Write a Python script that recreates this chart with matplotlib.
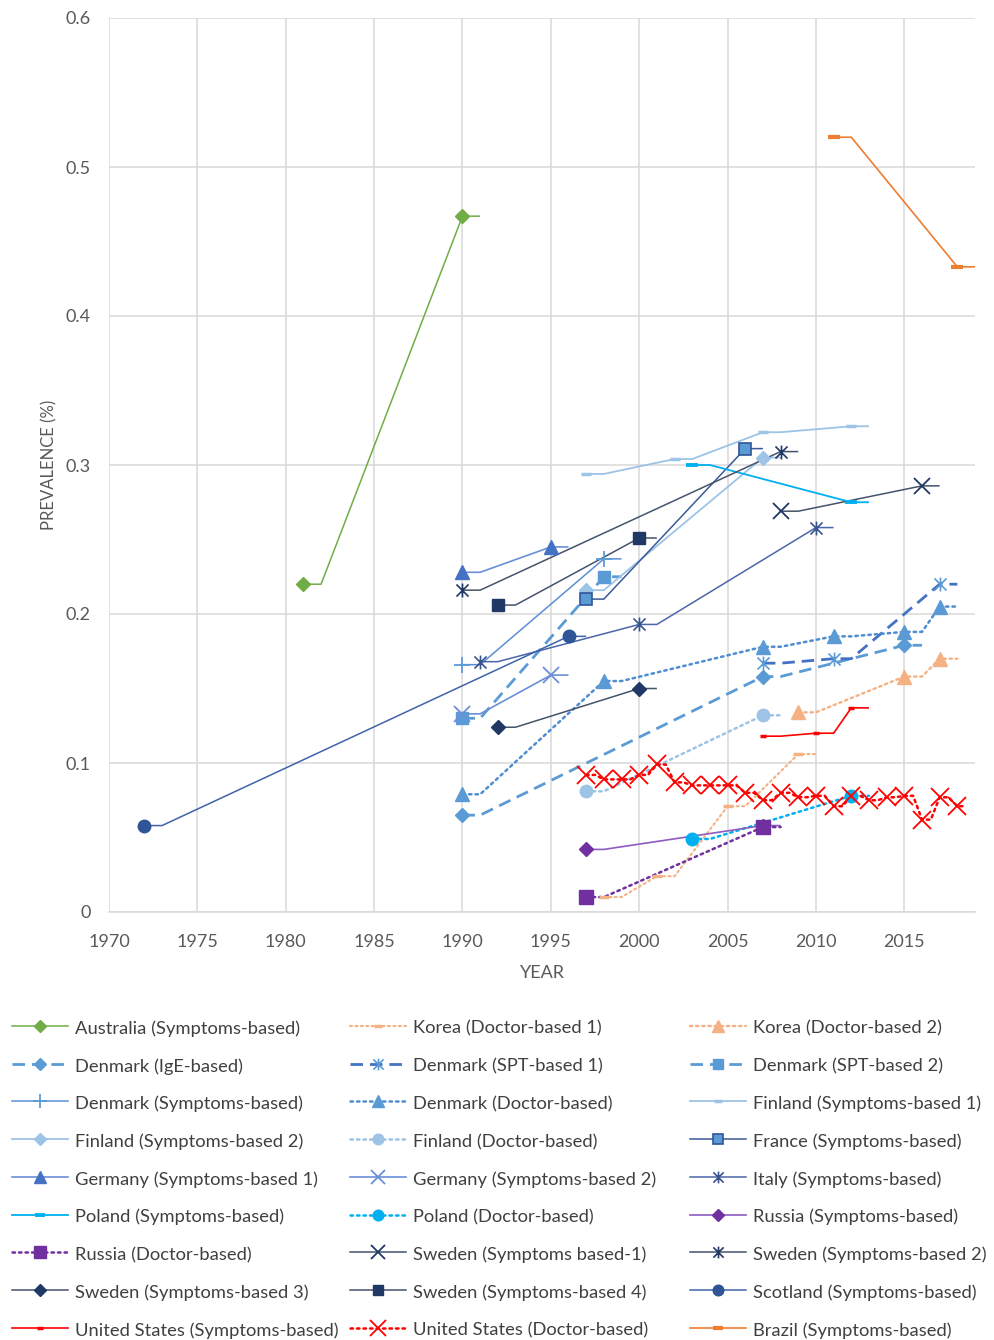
import matplotlib
matplotlib.use("Agg")
import matplotlib.pyplot as plt
from matplotlib.lines import Line2D
from matplotlib.path import Path

plt.rcParams['font.family'] = ['Lato', 'DejaVu Sans']

# ---------------- data ----------------
australia_x = [1981, 1990]; australia_y = [0.220, 0.467]
korea_d1_x = [1998, 2001, 2005, 2009]; korea_d1_y = [0.010, 0.024, 0.071, 0.106]
korea_d2_x = [2009, 2015, 2017]; korea_d2_y = [0.134, 0.158, 0.170]
dk_ige_x = [1990, 2007, 2015]; dk_ige_y = [0.065, 0.158, 0.179]
dk_spt1_x = [2007, 2011, 2017]; dk_spt1_y = [0.167, 0.170, 0.220]
dk_spt2_x = [1990, 1998]; dk_spt2_y = [0.130, 0.225]
dk_sym_x = [1990, 1998]; dk_sym_y = [0.166, 0.237]
dk_doc_x = [1990, 1998, 2007, 2011, 2015, 2017]; dk_doc_y = [0.079, 0.155, 0.178, 0.185, 0.188, 0.205]
fi_s1_x = [1997, 2002, 2007, 2012]; fi_s1_y = [0.294, 0.304, 0.322, 0.326]
fi_s2_x = [1997, 2007]; fi_s2_y = [0.216, 0.305]
fi_doc_x = [1997, 2007]; fi_doc_y = [0.081, 0.132]
france_x = [1997, 2006]; france_y = [0.210, 0.311]
de_s1_x = [1990, 1995]; de_s1_y = [0.228, 0.245]
de_s2_x = [1990, 1995]; de_s2_y = [0.133, 0.159]
italy_x = [1991, 2000, 2010]; italy_y = [0.168, 0.193, 0.258]
pl_sym_x = [2003, 2012]; pl_sym_y = [0.300, 0.275]
pl_doc_x = [2003, 2012]; pl_doc_y = [0.049, 0.078]
ru_sym_x = [1997, 2007]; ru_sym_y = [0.042, 0.058]
ru_doc_x = [1997, 2007]; ru_doc_y = [0.010, 0.057]
se_s1_x = [2008, 2016]; se_s1_y = [0.269, 0.286]
se_s2_x = [1990, 2008]; se_s2_y = [0.216, 0.309]
se_s3_x = [1992, 2000]; se_s3_y = [0.124, 0.150]
se_s4_x = [1992, 2000]; se_s4_y = [0.206, 0.251]
scotland_x = [1972, 1996]; scotland_y = [0.058, 0.185]
us_sym_x = [2007, 2010, 2012]; us_sym_y = [0.118, 0.120, 0.137]
us_doc_x = list(range(1997, 2019))
us_doc_y = [0.092, 0.089, 0.089, 0.092, 0.099, 0.087, 0.085, 0.085, 0.085, 0.080, 0.075,
            0.080, 0.077, 0.078, 0.071, 0.078, 0.075, 0.077, 0.078, 0.062, 0.077, 0.071]
brazil_x = [2011, 2018]; brazil_y = [0.520, 0.433]

x_ticks = [1970, 1975, 1980, 1985, 1990, 1995, 2000, 2005, 2010, 2015]
y_ticks = [0, 0.1, 0.2, 0.3, 0.4, 0.5, 0.6]
y_tick_labels = ['0', '0.1', '0.2', '0.3', '0.4', '0.5', '0.6']

# ---------------- styles ----------------
star = Path([(-1, -1), (1, 1), (-1, 1), (1, -1), (0, -1.15), (0, 1.15)],
            [Path.MOVETO, Path.LINETO, Path.MOVETO, Path.LINETO, Path.MOVETO, Path.LINETO])

SOLID = '-'
DOT = (0, (1, 1.6))
DASH = (0, (4.5, 2.5))

# label, x, y, line color, linestyle, lw, marker, marker size, face, edge, mew
series = [
    ("Australia (Symptoms-based)", australia_x, australia_y, '#70AD47', SOLID, 1.1, 'D', 7.5, '#70AD47', '#70AD47', 1),
    ("Korea (Doctor-based 1)", korea_d1_x, korea_d1_y, '#F4B183', DOT, 1.5, '_', 7, '#F4B183', '#F4B183', 2.5),
    ("Korea (Doctor-based 2)", korea_d2_x, korea_d2_y, '#F4B183', DOT, 1.7, '^', 10, '#F4B183', '#F4B183', 1),
    ("Denmark (IgE-based)", dk_ige_x, dk_ige_y, '#5B9BD5', DASH, 2.0, 'D', 7.5, '#5B9BD5', '#5B9BD5', 1),
    ("Denmark (SPT-based 1)", dk_spt1_x, dk_spt1_y, '#4472C4', DASH, 2.0, star, 10, 'none', '#5B9BD5', 1.2),
    ("Denmark (SPT-based 2)", dk_spt2_x, dk_spt2_y, '#5B9BD5', DASH, 2.0, 's', 9, '#5B9BD5', '#5B9BD5', 1),
    ("Denmark (Symptoms-based)", dk_sym_x, dk_sym_y, '#5B8ED6', SOLID, 1.1, '+', 12, '#5B9BD5', '#5B9BD5', 1.3),
    ("Denmark (Doctor-based)", dk_doc_x, dk_doc_y, '#4F8DD0', DOT, 1.8, '^', 10, '#5B9BD5', '#5B9BD5', 1),
    ("Finland (Symptoms-based 1)", fi_s1_x, fi_s1_y, '#9DC3E6', SOLID, 1.3, '_', 7, '#9DC3E6', '#9DC3E6', 2.5),
    ("Finland (Symptoms-based 2)", fi_s2_x, fi_s2_y, '#9DC3E6', SOLID, 1.3, 'D', 7.5, '#9DC3E6', '#9DC3E6', 1),
    ("Finland (Doctor-based)", fi_doc_x, fi_doc_y, '#9DC3E6', DOT, 1.8, 'o', 9, '#9DC3E6', '#9DC3E6', 1),
    ("France (Symptoms-based)", france_x, france_y, '#3C5A9A', SOLID, 1.1, 's', 9, '#5B9BD5', '#2F5597', 1.2),
    ("Germany (Symptoms-based 1)", de_s1_x, de_s1_y, '#6A8FD8', SOLID, 1.2, '^', 10, '#4472C4', '#4472C4', 1),
    ("Germany (Symptoms-based 2)", de_s2_x, de_s2_y, '#6A8FD8', SOLID, 1.2, 'x', 12, '#6A8FD8', '#6A8FD8', 1.3),
    ("Italy (Symptoms-based)", italy_x, italy_y, '#4A66A8', SOLID, 1.1, star, 10, 'none', '#3A5490', 1.2),
    ("Poland (Symptoms-based)", pl_sym_x, pl_sym_y, '#00B0F0', SOLID, 1.3, '_', 9, '#00B0F0', '#00B0F0', 2.8),
    ("Poland (Doctor-based)", pl_doc_x, pl_doc_y, '#00B0F0', DOT, 1.8, 'o', 9, '#00B0F0', '#00B0F0', 1),
    ("Russia (Symptoms-based)", ru_sym_x, ru_sym_y, '#8E5BC0', SOLID, 1.2, 'D', 7.5, '#7030A0', '#7030A0', 1),
    ("Russia (Doctor-based)", ru_doc_x, ru_doc_y, '#7030A0', DOT, 1.8, 's', 10, '#7030A0', '#7030A0', 1),
    ("Sweden (Symptoms based-1)", se_s1_x, se_s1_y, '#44546A', SOLID, 1.1, 'x', 12, '#203864', '#203864', 1.3),
    ("Sweden (Symptoms-based 2)", se_s2_x, se_s2_y, '#44546A', SOLID, 1.1, star, 10, 'none', '#203864', 1.2),
    ("Sweden (Symptoms-based 3)", se_s3_x, se_s3_y, '#44546A', SOLID, 1.1, 'D', 7.5, '#1F3864', '#1F3864', 1),
    ("Sweden (Symptoms-based 4)", se_s4_x, se_s4_y, '#44546A', SOLID, 1.1, 's', 9, '#1F3864', '#1F3864', 1),
    ("Scotland (Symptoms-based)", scotland_x, scotland_y, '#3F63AA', SOLID, 1.1, 'o', 9, '#2F5597', '#2F5597', 1),
    ("United States (Symptoms-based)", us_sym_x, us_sym_y, '#FF0000', SOLID, 1.2, '_', 5, '#FF0000', '#FF0000', 2.5),
    ("United States (Doctor-based)", us_doc_x, us_doc_y, '#FF0000', DOT, 1.8, 'x', 13, '#FF0000', '#FF0000', 1.3),
    ("Brazil (Symptoms-based)", brazil_x, brazil_y, '#ED7D31', SOLID, 1.2, '_', 9, '#ED7D31', '#ED7D31', 3),
]


def trail(xs, ys, tail=1.0):
    vx, vy = [], []
    n = len(xs)
    for i in range(n):
        if i < n - 1:
            t = min(tail, 0.5 * (xs[i + 1] - xs[i]))
        else:
            t = tail if n < 2 or xs[-1] - xs[-2] > 1 else 0.3
        vx += [xs[i], xs[i] + t]
        vy += [ys[i], ys[i]]
    return vx, vy


fig = plt.figure(figsize=(9.94, 13.40), dpi=100)
ax = fig.add_axes([109 / 994, 1 - 912 / 1340, (975 - 109) / 994, (912 - 18) / 1340])

handles = {}
for (lab, xs, ys, lc, ls, lw, mk, ms, mfc, mec, mew) in series:
    vx, vy = trail(xs, ys)
    ax.plot(vx, vy, color=lc, linestyle=ls, linewidth=lw, solid_capstyle='butt',
            dash_capstyle='round' if ls == DOT else 'butt', zorder=2)
    ax.plot(xs, ys, linestyle='none', marker=mk, markersize=ms, markerfacecolor=mfc,
            markeredgecolor=mec, markeredgewidth=mew, zorder=3)
    handles[lab] = Line2D([], [], color=lc, linestyle=ls, linewidth=lw, marker=mk,
                          markersize=ms * 0.85, markerfacecolor=mfc, markeredgecolor=mec,
                          markeredgewidth=mew, dash_capstyle='round' if ls == DOT else 'butt')

ax.set_xlim(1970, 2019)
ax.set_ylim(0, 0.6)
ax.set_xticks(x_ticks)
ax.set_xticklabels([str(v) for v in x_ticks])
ax.set_yticks(y_ticks)
ax.set_yticklabels(y_tick_labels)
ax.grid(True, color='#D9D9D9', linewidth=1.1)
ax.set_axisbelow(True)
for s in ['top', 'right', 'left']:
    ax.spines[s].set_visible(False)
ax.spines['bottom'].set_color('#D9D9D9')
ax.spines['bottom'].set_linewidth(1.1)
ax.tick_params(axis='both', length=0, labelsize=13, labelcolor='#595959')
ax.tick_params(axis='x', pad=16)
ax.tick_params(axis='y', pad=13)
ax.set_xlabel('YEAR', fontsize=13, color='#595959', labelpad=11)
ax.set_ylabel('PREVALENCE (%)', fontsize=12, color='#595959', labelpad=6)

labels = [s[0] for s in series]
cols = [labels[0::3], labels[1::3], labels[2::3]]
col_x = [12, 350, 690]
for cx, col in zip(col_x, cols):
    leg = fig.legend([handles[l] for l in col], col, loc='upper left',
                     bbox_to_anchor=(cx / 994, 1 - 1018 / 1340), frameon=False,
                     fontsize=13.2, handlelength=3.05, handletextpad=0.38,
                     handleheight=1.25, labelspacing=1.0, borderpad=0, borderaxespad=0)
    for t in leg.get_texts():
        t.set_color('#404040')

fig.savefig('out.png', dpi=100)
